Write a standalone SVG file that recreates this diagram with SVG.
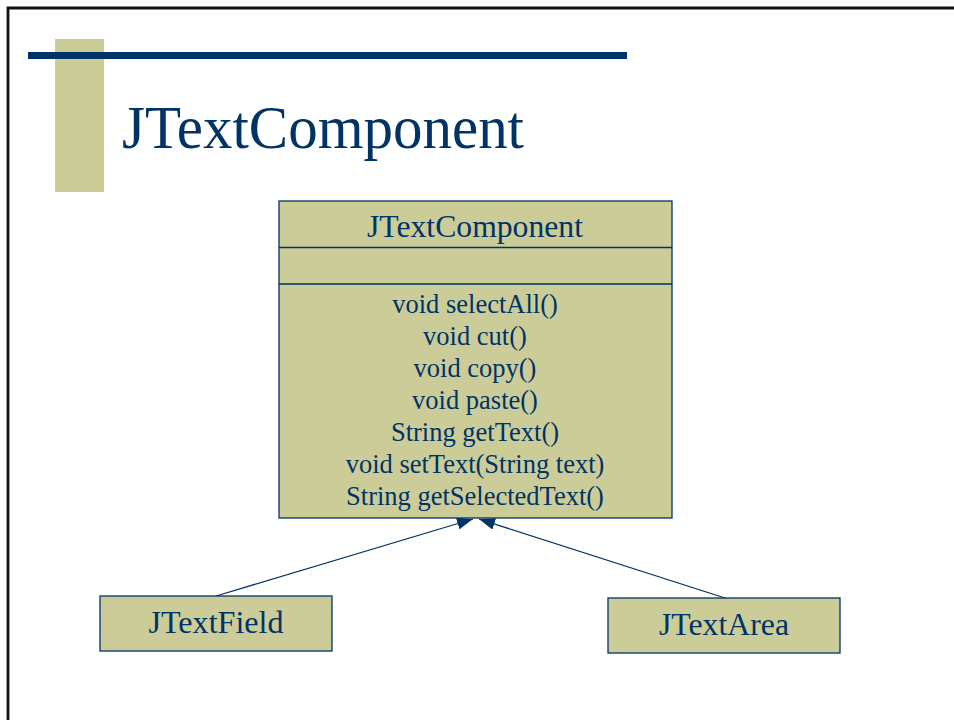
<svg xmlns="http://www.w3.org/2000/svg" width="954" height="720" viewBox="0 0 954 720">
<style>
.box{fill:#CCCC99;stroke:#003366;stroke-width:1.3}
.t{font-family:"Liberation Serif","Times New Roman",serif;fill:#003366;text-anchor:middle}
.m{font-size:26.5px}
.n{font-size:32px}
.conn{stroke:#003366;stroke-width:1.3;fill:none}
</style>
<defs>
<marker id="tri" viewBox="0 0 16 12" refX="16" refY="6" markerWidth="16" markerHeight="12" markerUnits="userSpaceOnUse" orient="auto">
<path d="M0,0 L16,6 L0,12 Z" fill="#003366"/>
</marker>
</defs>
<rect width="954" height="720" fill="#fff"/>
<path d="M8,720 V8 H954" fill="none" stroke="#111" stroke-width="2.8"/>
<rect x="55" y="39" width="49" height="153" fill="#CCCC99"/>
<rect x="28" y="52" width="599" height="7" fill="#003366"/>
<text x="122" y="148" font-family="Liberation Serif, Times New Roman, serif" font-size="62" fill="#003366" textLength="402" lengthAdjust="spacingAndGlyphs">JTextComponent</text>
<g id="connectors">
<line class="conn" x1="216" y1="596" x2="473" y2="519" marker-end="url(#tri)"/>
<line class="conn" x1="725" y1="598" x2="479" y2="519" marker-end="url(#tri)"/>
</g>
<g id="JTextComponent">
<rect class="box" x="279" y="201" width="393" height="317"/>
<line x1="279" y1="247.5" x2="672" y2="247.5" stroke="#003366" stroke-width="1.5"/>
<line x1="279" y1="284" x2="672" y2="284" stroke="#003366" stroke-width="1.5"/>
<text class="t n" x="475" y="237" textLength="216" lengthAdjust="spacingAndGlyphs">JTextComponent</text>
<text class="t m" x="475" y="313">void selectAll()</text>
<text class="t m" x="475" y="345">void cut()</text>
<text class="t m" x="475" y="377">void copy()</text>
<text class="t m" x="475" y="409">void paste()</text>
<text class="t m" x="475" y="441">String getText()</text>
<text class="t m" x="475" y="473">void setText(String text)</text>
<text class="t m" x="475" y="505">String getSelectedText()</text>
</g>
<g id="JTextField">
<rect class="box" x="100" y="596" width="232" height="55"/>
<text class="t n" x="216" y="633" textLength="135" lengthAdjust="spacingAndGlyphs">JTextField</text>
</g>
<g id="JTextArea">
<rect class="box" x="608" y="598" width="232" height="55"/>
<text class="t n" x="724" y="635" textLength="130" lengthAdjust="spacingAndGlyphs">JTextArea</text>
</g>
</svg>
